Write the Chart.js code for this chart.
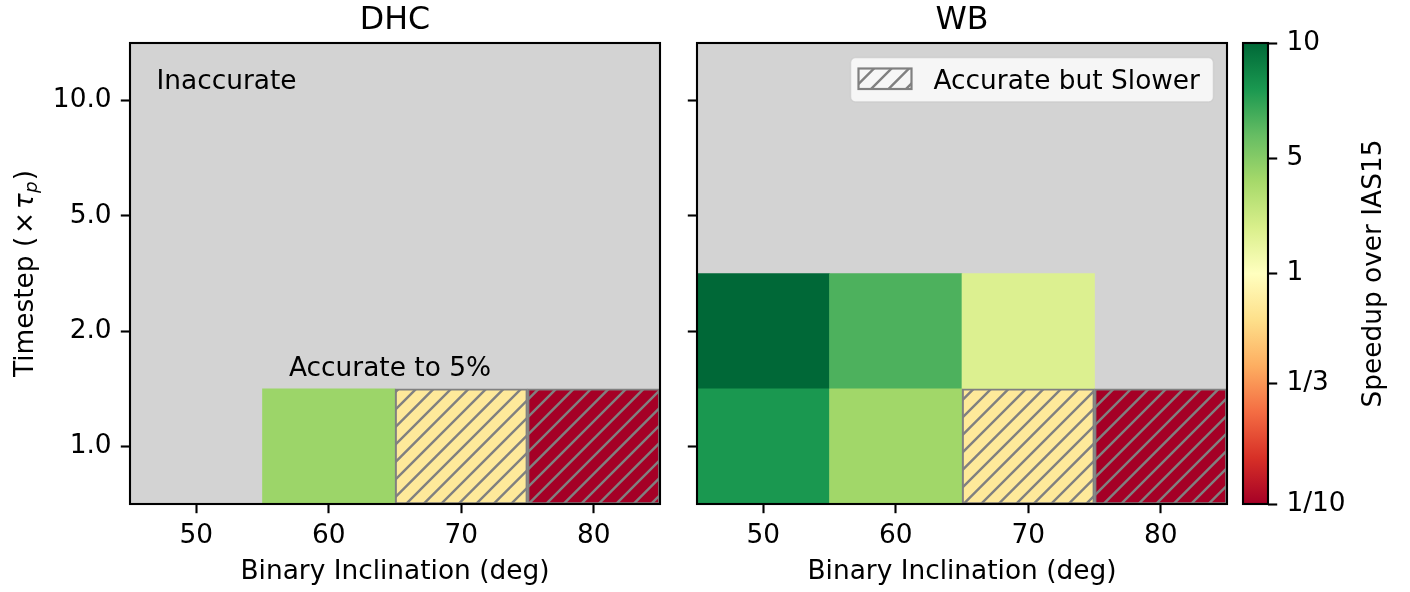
<!DOCTYPE html>
<html>
<head>
<meta charset="utf-8">
<title>Speedup over IAS15: DHC vs WB</title>
<script src="https://cdn.jsdelivr.net/npm/chart.js@4.4.1/dist/chart.umd.min.js"></script>
<style>
  html, body { margin: 0; padding: 0; background: #fff; }
  #fig { position: relative; width: 1410px; height: 592px; overflow: hidden; background: #fff; }
  #fig canvas { position: absolute; top: 0; }
</style>
</head>
<body>
<div id="fig">
  <canvas id="dhc" width="680" height="592" style="left:0px;width:680px;height:592px"></canvas>
  <canvas id="wb" width="560" height="592" style="left:680px;width:560px;height:592px"></canvas>
  <canvas id="cbar" width="170" height="592" style="left:1240px;width:170px;height:592px"></canvas>
</div>
<script>
// ---- data -------------------------------------------------------------
const inclinations = [50, 60, 70, 80];                 // binary inclination (deg)
const timestepLabels = ['10.0', '5.0', '2.0', '1.0'];  // timestep (x tau_p), top row first
const xTickValues = [50, 60, 70, 80];

// Speedup over IAS15 for each timestep row (null = not accurate to 5%)
const dhcDt10 = [null, null, null, null];
const dhcDt5  = [null, null, null, null];
const dhcDt2  = [null, null, null, null];
const dhcDt1  = [null, 4.0, 0.72, 0.1];

const wbDt10 = [null, null, null, null];
const wbDt5  = [null, null, null, null];
const wbDt2  = [10, 6.3, 1.8, null];
const wbDt1  = [7.6, 3.8, 0.72, 0.1];

const cbarTickValues = [0.1, 1 / 3, 1, 5, 10];
const cbarTickLabels = ['1/10', '1/3', '1', '5', '10'];

// ---- styling ----------------------------------------------------------
const FAMILY = '"DejaVu Sans", sans-serif';
const FS = 26.4;          // regular text size
const FS_TITLE = 31.7;    // panel titles
const TICK_LEN = 9.2;
const TICK_W = 2.1;
const PANEL_BG = '#d3d3d3';
const HATCH_COLOR = '#808080';

// RdYlGn colour map anchors
const RdYlGn = ['#a50026', '#d73027', '#f46d43', '#fdae61', '#fee08b', '#ffffbf',
                '#d9ef8b', '#a6d96a', '#66bd63', '#1a9850', '#006837'];

// colour-scale normalisation: speedup -> [0, 1], log-linear between anchors
const NORM_ANCHORS = [[0.1, 0], [1, 0.5], [5, 0.75], [10, 1]];
function norm(s) {
  if (s <= NORM_ANCHORS[0][0]) return 0;
  for (let i = 1; i < NORM_ANCHORS.length; i++) {
    const [s0, t0] = NORM_ANCHORS[i - 1];
    const [s1, t1] = NORM_ANCHORS[i];
    if (s <= s1) return t0 + (t1 - t0) * Math.log(s / s0) / Math.log(s1 / s0);
  }
  return 1;
}

function hexToRgb(h) {
  return [parseInt(h.slice(1, 3), 16), parseInt(h.slice(3, 5), 16), parseInt(h.slice(5, 7), 16)];
}
function cmap(t) {
  t = Math.max(0, Math.min(1, t));
  const p = t * (RdYlGn.length - 1);
  const i = Math.min(RdYlGn.length - 2, Math.floor(p));
  const f = p - i;
  const a = hexToRgb(RdYlGn[i]), b = hexToRgb(RdYlGn[i + 1]);
  const c = a.map((v, k) => Math.round(v + (b[k] - v) * f));
  return `rgb(${c[0]},${c[1]},${c[2]})`;
}

// "//" hatch tile: 4 diagonal lines across a 70 px square
const HATCH_TILE = 70, HATCH_LINES = 4;
const patternCache = {};
function hatchPattern(bg) {
  const key = bg || 'none';
  if (patternCache[key]) return patternCache[key];
  const c = document.createElement('canvas');
  c.width = c.height = HATCH_TILE;
  const g = c.getContext('2d');
  if (bg) { g.fillStyle = bg; g.fillRect(0, 0, HATCH_TILE, HATCH_TILE); }
  g.strokeStyle = HATCH_COLOR;
  g.lineWidth = 2.4;
  g.beginPath();
  const step = HATCH_TILE / HATCH_LINES;
  for (let k = -1; k <= 2 * HATCH_LINES + 1; k++) {
    const c0 = k * step;
    g.moveTo(c0 + 4, -4);
    g.lineTo(-4, c0 + 4);
  }
  g.stroke();
  patternCache[key] = g.createPattern(c, 'repeat');
  return patternCache[key];
}

function cellFill(speedup) {
  const col = cmap(norm(speedup));
  return speedup < 1 ? hatchPattern(col) : col;
}

// ---- decoration plugin: background, frame, titles and notes ------------
function roundRect(ctx, x, y, w, h, r) {
  ctx.beginPath();
  ctx.moveTo(x + r, y);
  ctx.lineTo(x + w - r, y);
  ctx.arcTo(x + w, y, x + w, y + r, r);
  ctx.lineTo(x + w, y + h - r);
  ctx.arcTo(x + w, y + h, x + w - r, y + h, r);
  ctx.lineTo(x + r, y + h);
  ctx.arcTo(x, y + h, x, y + h - r, r);
  ctx.lineTo(x, y + r);
  ctx.arcTo(x, y, x + r, y, r);
  ctx.closePath();
}

function drawTimestepLabel(ctx, x, y) {
  const reg = `${FS}px ${FAMILY}`;
  const ita = `italic ${FS}px ${FAMILY}`;
  const sub = `italic ${FS * 0.7}px ${FAMILY}`;
  const gap = FS * 0.1;
  const parts = [
    { t: 'Timestep (', f: reg, dy: 0, after: gap },
    { t: '\u00d7', f: reg, dy: 0, after: gap },
    { t: '\u03c4', f: ita, dy: 0, after: 0.5 },
    { t: 'p', f: sub, dy: FS * 0.17, after: 1 },
    { t: ')', f: reg, dy: 0, after: 0 }
  ];
  let total = 0;
  parts.forEach(p => { ctx.font = p.f; p.w = ctx.measureText(p.t).width; total += p.w + p.after; });
  ctx.save();
  ctx.translate(x, y);
  ctx.rotate(-Math.PI / 2);
  ctx.fillStyle = '#000';
  ctx.textBaseline = 'alphabetic';
  ctx.textAlign = 'left';
  let cx = -total / 2;
  parts.forEach(p => { ctx.font = p.f; ctx.fillText(p.t, cx, p.dy); cx += p.w + p.after; });
  ctx.restore();
}

const decor = {
  id: 'decor',
  beforeDatasetsDraw(chart, args, opts) {
    if (!opts.background) return;
    const { ctx, chartArea: a } = chart;
    ctx.save();
    ctx.fillStyle = opts.background;
    ctx.fillRect(a.left, a.top, a.right - a.left, a.bottom - a.top);
    ctx.restore();
  },
  afterDraw(chart, args, opts) {
    const { ctx, chartArea: a } = chart;
    ctx.save();
    // frame
    ctx.strokeStyle = '#000';
    ctx.lineWidth = 2.1;
    ctx.strokeRect(a.left, a.top, a.right - a.left, a.bottom - a.top);
    ctx.fillStyle = '#000';
    // panel title
    if (opts.title) {
      ctx.font = `${FS_TITLE}px ${FAMILY}`;
      ctx.textAlign = 'center';
      ctx.textBaseline = 'alphabetic';
      ctx.fillText(opts.title, (a.left + a.right) / 2, a.top - 14.5);
    }
    // y axis label
    if (opts.timestepLabel) drawTimestepLabel(ctx, 33, (a.top + a.bottom) / 2);
    // region notes
    (opts.notes || []).forEach(n => {
      ctx.font = `${FS}px ${FAMILY}`;
      ctx.textAlign = 'left';
      ctx.textBaseline = 'alphabetic';
      const x = n.axesX !== undefined ? a.left + n.axesX * (a.right - a.left) : chart.scales.x.getPixelForValue(n.dataX);
      let y;
      if (n.axesY !== undefined) {
        y = a.top + (1 - n.axesY) * (a.bottom - a.top);
      } else {
        const ys = chart.scales.y;
        const band = (a.bottom - a.top) / timestepLabels.length;
        y = ys.getPixelForValue(timestepLabels.indexOf(n.aboveRow)) - band / 2 - n.gap;
      }
      ctx.fillText(n.text, x, y);
    });
    // legend for the hatched cells
    if (opts.legend) {
      const w = 363, h = 44.5;
      const x0 = a.right - 13.5 - w, y0 = a.top + 14.5;
      roundRect(ctx, x0, y0, w, h, 5);
      ctx.fillStyle = 'rgba(255,255,255,0.8)';
      ctx.fill();
      ctx.strokeStyle = 'rgba(204,204,204,0.8)';
      ctx.lineWidth = 1.5;
      ctx.stroke();
      const px = x0 + 8, py = y0 + 11, pw = 53, ph = 20.5;
      ctx.fillStyle = hatchPattern(null);
      ctx.fillRect(px, py, pw, ph);
      ctx.strokeStyle = HATCH_COLOR;
      ctx.lineWidth = 2.2;
      ctx.strokeRect(px, py, pw, ph);
      ctx.fillStyle = '#000';
      ctx.font = `${FS}px ${FAMILY}`;
      ctx.textAlign = 'left';
      ctx.textBaseline = 'alphabetic';
      ctx.fillText(opts.legend, x0 + 83, y0 + 31);
    }
    // colour bar label
    if (opts.cbarLabel) {
      ctx.translate(a.right + 113, (a.top + a.bottom) / 2);
      ctx.rotate(-Math.PI / 2);
      ctx.font = `${FS}px ${FAMILY}`;
      ctx.textAlign = 'center';
      ctx.textBaseline = 'alphabetic';
      ctx.fillText(opts.cbarLabel, 0, 0);
    }
    ctx.restore();
  }
};

const tickGrid = () => ({
  display: true, drawOnChartArea: false, drawTicks: true,
  tickLength: TICK_LEN, tickWidth: TICK_W, tickColor: '#000', offset: false
});

Chart.defaults.color = '#000';
Chart.defaults.font.family = FAMILY;
Chart.defaults.font.size = FS;

function panelConfig(rows, yAxisWidth, rightPad, showYLabels, decorOpts) {
  const half = (inclinations[1] - inclinations[0]) / 2;
  const cells = [];
  rows.forEach((vals, r) => vals.forEach((v, c) => {
    if (v === null) return;
    cells.push({ x: [inclinations[c] - half, inclinations[c] + half], y: timestepLabels[r], speedup: v });
  }));
  return {
    type: 'bar',
    data: {
      labels: timestepLabels,
      datasets: [{
        data: cells,
        backgroundColor: ctx => ctx.raw ? cellFill(ctx.raw.speedup) : 'transparent',
        borderColor: ctx => (ctx.raw && ctx.raw.speedup < 1) ? HATCH_COLOR : 'rgba(0,0,0,0)',
        borderWidth: ctx => (ctx.raw && ctx.raw.speedup < 1) ? 2.2 : 0,
        borderSkipped: false,
        categoryPercentage: 1,
        barPercentage: 1
      }]
    },
    options: {
      indexAxis: 'y',
      responsive: false,
      animation: false,
      events: [],
      layout: { padding: { top: 43, left: 0, right: rightPad, bottom: 0 } },
      plugins: { legend: { display: false }, tooltip: { enabled: false }, decor: decorOpts },
      scales: {
        y: {
          type: 'category',
          position: 'left',
          offset: true,
          grid: tickGrid(),
          border: { display: false },
          ticks: { display: showYLabels, padding: TICK_LEN, font: { size: FS } },
          afterFit: s => { s.width = yAxisWidth; }
        },
        x: {
          type: 'linear',
          position: 'bottom',
          min: inclinations[0] - half,
          max: inclinations[inclinations.length - 1] + half,
          grid: tickGrid(),
          border: { display: false },
          ticks: { padding: 6.9, maxRotation: 0, font: { size: FS } },
          afterBuildTicks: s => { s.ticks = xTickValues.map(v => ({ value: v })); },
          title: { display: true, text: 'Binary Inclination (deg)', font: { size: FS }, padding: { top: 0, bottom: 4.2 } },
          afterFit: s => { s.height = 88; }
        }
      }
    },
    plugins: [decor]
  };
}

new Chart(document.getElementById('dhc'), panelConfig(
  [dhcDt10, dhcDt5, dhcDt2, dhcDt1], 130, 20, true,
  {
    background: PANEL_BG, title: 'DHC', timestepLabel: true,
    notes: [
      { text: 'Inaccurate', axesX: 0.05, axesY: 0.9 },
      { text: 'Accurate to 5%', dataX: 57, aboveRow: '1.0', gap: 13 }
    ]
  }
));

new Chart(document.getElementById('wb'), panelConfig(
  [wbDt10, wbDt5, wbDt2, wbDt1], 17, 13, false,
  { background: PANEL_BG, title: 'WB', legend: 'Accurate but Slower' }
));

// colour bar
new Chart(document.getElementById('cbar'), {
  type: 'bar',
  data: {
    labels: ['speedup'],
    datasets: [{
      data: [[0, 1]],
      backgroundColor: ctx => {
        const ch = ctx.chart;
        if (!ch.chartArea) return 'transparent';
        const ys = ch.scales.y;
        const g = ch.ctx.createLinearGradient(0, ys.getPixelForValue(0), 0, ys.getPixelForValue(1));
        RdYlGn.forEach((c, i) => g.addColorStop(i / (RdYlGn.length - 1), c));
        return g;
      },
      borderWidth: 0,
      categoryPercentage: 1,
      barPercentage: 1
    }]
  },
  options: {
    responsive: false,
    animation: false,
    events: [],
    layout: { padding: { top: 43, left: 3, right: 0, bottom: 88 } },
    plugins: { legend: { display: false }, tooltip: { enabled: false }, decor: { cbarLabel: 'Speedup over IAS15' } },
    scales: {
      x: { display: false, offset: true },
      y: {
        position: 'right',
        min: 0,
        max: 1,
        grid: tickGrid(),
        border: { display: false },
        afterBuildTicks: s => { s.ticks = cbarTickValues.map(v => ({ value: norm(v) })); },
        ticks: { padding: TICK_LEN, font: { size: FS }, callback: (v, i) => cbarTickLabels[i] },
        afterFit: s => { s.width = 142; }
      }
    }
  },
  plugins: [decor]
});
</script>
</body>
</html>
